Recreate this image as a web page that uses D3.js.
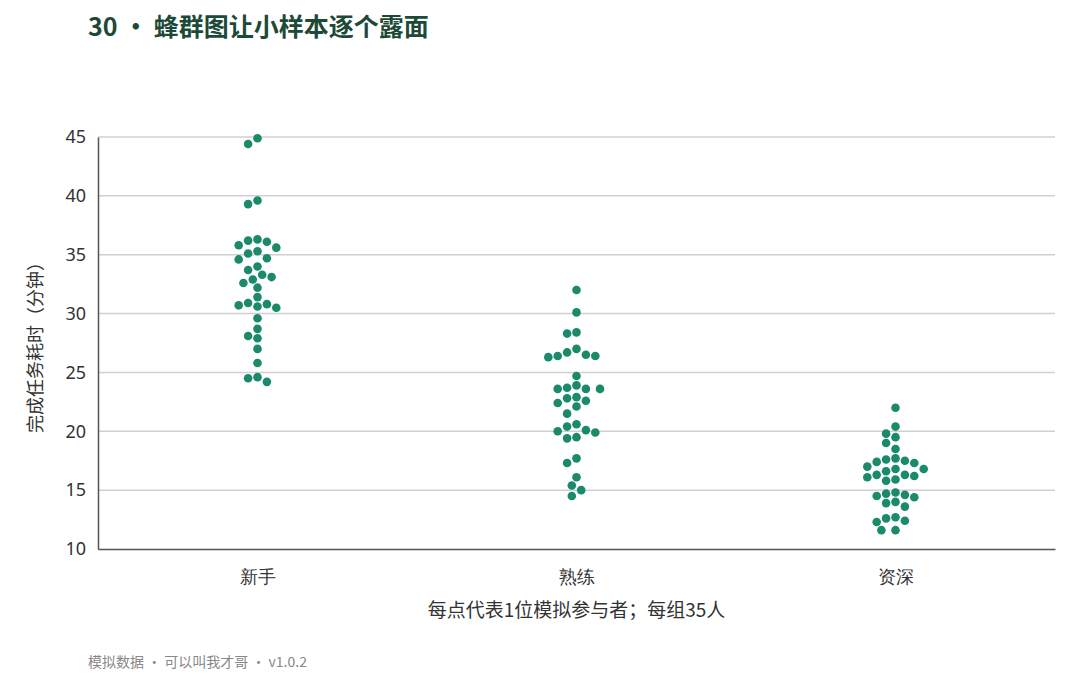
<!DOCTYPE html>
<html><head><meta charset="utf-8">
<script src="https://cdn.jsdelivr.net/npm/d3@7"></script>
<style>body{margin:0;background:#fff;font-family:"Noto Sans CJK SC","Noto Sans",sans-serif}</style>
</head><body><svg id="c" width="1080" height="675"></svg>
<script>
const categories = ["新手", "熟练", "资深"];
const novice = [44.9,44.4,39.6,39.3,36.3,36.2,36.1,35.8,35.6,35.3,35.1,34.7,34.6,34.0,33.7,33.3,33.1,32.9,32.6,32.2,31.4,30.9,30.8,30.7,30.6,30.5,29.6,28.7,28.1,27.9,27.0,25.8,24.6,24.5,24.2];
const skilled = [32.0,30.1,28.4,28.3,27.0,26.7,26.5,26.4,26.3,26.4,24.7,23.9,23.7,23.6,23.6,23.6,22.9,22.8,22.6,22.4,22.1,21.5,20.6,20.4,20.1,20.0,19.9,19.5,19.4,17.7,17.3,16.1,15.4,15.0,14.5];
const senior = [22.0,20.4,19.8,19.5,19.0,18.5,17.7,17.6,17.5,17.4,17.3,17.0,16.8,16.8,16.6,16.3,16.3,16.2,16.1,15.9,15.8,14.8,14.7,14.6,14.5,14.4,14.0,13.9,13.6,12.7,12.6,12.4,12.3,11.6,11.6];
const yTicks = [10, 15, 20, 25, 30, 35, 40, 45];

const svg = d3.select("#c");
const margin = {top: 137, right: 25, bottom: 126, left: 98};
const W = 1080, H = 675;

const x = d3.scaleBand().domain(categories).range([margin.left, W - margin.right]);
const y = d3.scaleLinear().domain([10, 45]).range([H - margin.bottom, margin.top]);

//title
svg.append("text").attr("x", 88).attr("y", 36)
  .attr("font-size", 25).attr("font-weight", "bold").attr("fill", "#1d4a38")
  .text("30 • 蜂群图让小样本逐个露面");

//grid
svg.append("g").selectAll("line").data(yTicks.slice(1)).enter().append("line")
  .attr("x1", margin.left).attr("x2", W - margin.right)
  .attr("y1", d => y(d)).attr("y2", d => y(d))
  .attr("stroke", "#d0d0d0").attr("stroke-width", 1.5);

//y axis
const yAxis = svg.append("g").attr("transform", `translate(${margin.left},0)`)
  .call(d3.axisLeft(y).tickValues(yTicks).tickSize(0).tickPadding(12));
yAxis.select(".domain").attr("stroke", "#555").attr("stroke-width", 1.5);
yAxis.selectAll("text").attr("font-size", 18).attr("fill", "#333").attr("font-family", "Noto Sans");

//x axis
const xAxis = svg.append("g").attr("transform", `translate(0,${y(10)})`)
  .call(d3.axisBottom(x).tickSize(0).tickPadding(21));
xAxis.select(".domain").attr("stroke", "#555").attr("stroke-width", 1.5);
xAxis.selectAll("text").attr("font-size", 18).attr("fill", "#333");

svg.append("text").attr("transform", `translate(42,${(margin.top + y(10)) / 2}) rotate(-90)`)
  .attr("text-anchor", "middle").attr("font-size", 18).attr("fill", "#333")
  .text("完成任务耗时（分钟）");
svg.append("text").attr("x", (margin.left + W - margin.right) / 2).attr("y", 617)
  .attr("text-anchor", "middle").attr("font-size", 19).attr("fill", "#333")
  .text("每点代表1位模拟参与者；每组35人");
svg.append("text").attr("x", 88).attr("y", 667)
  .attr("font-size", 14).attr("fill", "#888")
  .text("模拟数据 · 可以叫我才哥 · v1.0.2");

//beeswarm placement
const r = 4.3, gap = 2 * r + 0.8;
function swarm(vals, cx) {
  const placed = [];
  vals.slice().sort((a, b) => b - a).forEach(v => {
    const py = y(v);
    let best = null;
    for (let k = 0; k < 40 && best === null; k++) {
      for (const s of k === 0 ? [0] : [-1, 1]) {
        const px = cx + s * k * gap / 2;
        if (placed.every(p => (p.x - px) ** 2 + (p.y - py) ** 2 >= gap * gap)) { best = px; break; }
      }
    }
    placed.push({x: best, y: py});
  });
  return placed;
}
[novice, skilled, senior].forEach((vals, i) => {
  const cx = x(categories[i]) + x.bandwidth() / 2;
  svg.append("g").selectAll("circle").data(swarm(vals, cx)).enter().append("circle")
    .attr("cx", d => d.x).attr("cy", d => d.y).attr("r", r)
    .attr("fill", "#1b8a6b");
});
</script></body></html>
